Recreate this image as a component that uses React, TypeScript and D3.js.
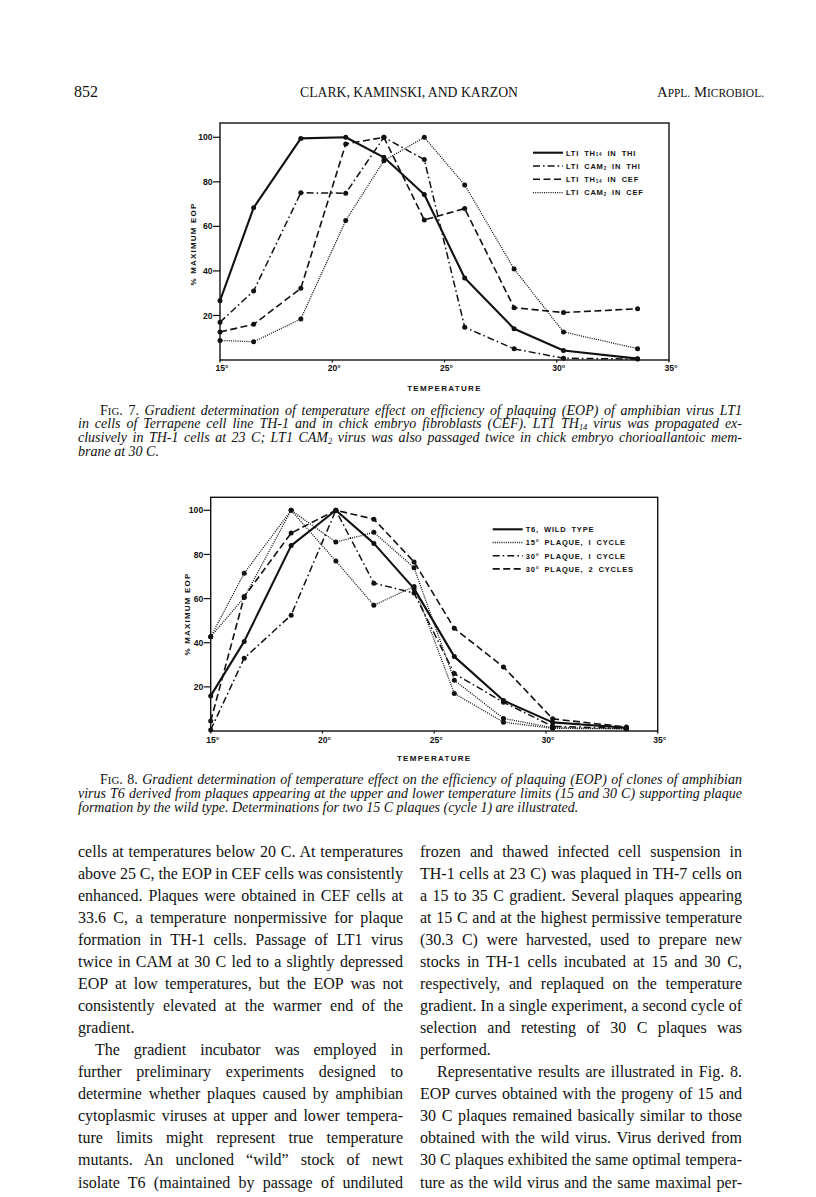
import React, { useLayoutEffect, useRef } from "react";
import * as d3 from "d3";

// ---------- data ----------
const temperatures = [15, 16.5, 18.6, 20.6, 22.3, 24.1, 25.9, 28.1, 30.3, 33.6];
const xTickValues = [15, 20, 25, 30, 35];
const yTickValues = [20, 40, 60, 80, 100];

// Fig. 7 series (% maximum EOP)
const lt1Th14InThi = [26.6, 68.4, 99.5, 100, 91, 74.3, 36.8, 14, 4.3, 0.6];
const lt1Cam2InThi = [17, 31, 75.1, 74.9, 100, 90, 14.7, 5, 0.8, 0.4];
const lt1Th14InCef = [12.6, 16, 32.2, 97, 100, 62.9, 68, 23.5, 21.3, 23];
const lt1Cam2InCef = [8.8, 8.2, 18.4, 62.6, 89.5, 100, 78.6, 40.9, 12.6, 5.1];
const fig7Labels = ["LTI TH_{14} IN THI", "LTI CAM_{2} IN THI", "LTI TH_{14} IN CEF", "LTI CAM_{2} IN CEF"];

// Fig. 8 series (% maximum EOP)
const t6WildType = [15.9, 40.6, 84, 100, 85, 64.5, 33.7, 13.8, 3.9, 1.5];
const plaque15CycleA = [42.7, 71.5, 100, 77, 57, 65.5, 17, 4, 1.2, 1];
const plaque15CycleB = [42.7, 60.5, 100, 85.6, 90, 74, 23, 5.7, 1.5, 1];
const plaque30Cycle1 = [0.5, 33, 52.5, 100, 67, 62.5, 26, 13, 2.1, 1.2];
const plaque30Cycle2 = [4.5, 60.9, 89.7, 100, 96, 76.6, 46.5, 29, 5.5, 1.8];
const fig8Labels = ["T6, WILD TYPE", "15° PLAQUE, I CYCLE", "30° PLAQUE, I CYCLE", "30° PLAQUE, 2 CYCLES"];

const headerLeft = "852";
const headerCenter = "CLARK, KAMINSKI, AND KARZON";
const headerRight = "A^{PPL.} M^{ICROBIOL.}";

const fig7Caption = [
  "~{F}^{IG}~{. 7. }Gradient determination of temperature effect on efficiency of plaquing (EOP) of amphibian virus LT1",
  "in cells of Terrapene cell line TH-1 and in chick embryo fibroblasts (CEF). LT1 TH_{14} virus was propagated ex-",
  "clusively in TH-1 cells at 23 C; LT1 CAM_{2} virus was also passaged twice in chick embryo chorioallantoic mem-",
  "brane at 30 C.",
];
const fig8Caption = [
  "~{F}^{IG}~{. 8. }Gradient determination of temperature effect on the efficiency of plaquing (EOP) of clones of amphibian",
  "virus T6 derived from plaques appearing at the upper and lower temperature limits (15 and 30 C) supporting plaque",
  "formation by the wild type. Determinations for two 15 C plaques (cycle 1) are illustrated.",
];

const leftColumn = [
  "cells at temperatures below 20 C. At temperatures",
  "above 25 C, the EOP in CEF cells was consistently",
  "enhanced. Plaques were obtained in CEF cells at",
  "33.6 C, a temperature nonpermissive for plaque",
  "formation in TH-1 cells. Passage of LT1 virus",
  "twice in CAM at 30 C led to a slightly depressed",
  "EOP at low temperatures, but the EOP was not",
  "consistently elevated at the warmer end of the",
  "gradient.",
  "The gradient incubator was employed in",
  "further preliminary experiments designed to",
  "determine whether plaques caused by amphibian",
  "cytoplasmic viruses at upper and lower tempera-",
  "ture limits might represent true temperature",
  "mutants. An uncloned \u201cwild\u201d stock of newt",
  "isolate T6 (maintained by passage of undiluted",
];
const leftParagraphEnds = [8];
const leftIndented = [9];

const rightColumn = [
  "frozen and thawed infected cell suspension in",
  "TH-1 cells at 23 C) was plaqued in TH-7 cells on",
  "a 15 to 35 C gradient. Several plaques appearing",
  "at 15 C and at the highest permissive temperature",
  "(30.3 C) were harvested, used to prepare new",
  "stocks in TH-1 cells incubated at 15 and 30 C,",
  "respectively, and replaqued on the temperature",
  "gradient. In a single experiment, a second cycle of",
  "selection and retesting of 30 C plaques was",
  "performed.",
  "Representative results are illustrated in Fig. 8.",
  "EOP curves obtained with the progeny of 15 and",
  "30 C plaques remained basically similar to those",
  "obtained with the wild virus. Virus derived from",
  "30 C plaques exhibited the same optimal tempera-",
  "ture as the wild virus and the same maximal per-",
];
const rightParagraphEnds = [9];
const rightIndented = [10];

// ---------- styles ----------
type Kind = "solid" | "dashdot" | "dashed" | "dotted";
const STROKE: Record<Kind, { w: number; dash?: string }> = {
  solid: { w: 2.1 },
  dashdot: { w: 1.5, dash: "7 3 1.6 3" },
  dashed: { w: 1.6, dash: "7 3.5" },
  dotted: { w: 1.3, dash: "1 1.2" },
};

const SANS = "'Liberation Sans', Arial, sans-serif";
const SERIF = "'Liberation Serif', 'Times New Roman', serif";
const INK = "#111";

// rich text: _{sub}, ^{small caps roman}, ~{roman}
function Rich({ s, size }: { s: string; size: number }) {
  const parts: { t: string; k: string }[] = [];
  const re = /([_^~])\{([^}]*)\}/g;
  let last = 0;
  let m: RegExpExecArray | null;
  while ((m = re.exec(s))) {
    if (m.index > last) parts.push({ t: s.slice(last, m.index), k: "" });
    parts.push({ t: m[2], k: m[1] });
    last = re.lastIndex;
  }
  if (last < s.length) parts.push({ t: s.slice(last), k: "" });
  let shift = 0;
  return (
    <>
      {parts.map((p, i) => {
        const target = p.k === "_" ? size * 0.12 : 0;
        const dy = target - shift;
        shift = target;
        return (
          <tspan
            key={i}
            dy={dy !== 0 ? dy : undefined}
            fontSize={p.k === "_" ? size * 0.6 : p.k === "^" ? size * 0.78 : undefined}
            fontStyle={p.k === "^" || p.k === "~" ? "normal" : undefined}
          >
            {p.t}
          </tspan>
        );
      })}
    </>
  );
}

interface SeriesDef {
  values: number[];
  kind: Kind;
}

interface ChartProps {
  left: number;
  right: number;
  top: number;
  yZero: number;
  yHundred: number;
  series: SeriesDef[];
  legendKinds: Kind[];
  labels: string[];
  legendX: number;
  legendY: number;
  legendStep: number;
  yTitleX: number;
  yTitleY: number;
  tickBaseline: number;
  titleBaseline: number;
}

function Chart(p: ChartProps) {
  const x = d3.scaleLinear().domain([15, 35]).range([p.left, p.right]);
  const y = d3.scaleLinear().domain([0, 100]).range([p.yZero, p.yHundred]);
  const line = d3
    .line<number>()
    .x((_, i) => x(temperatures[i]))
    .y((d) => y(d));
  const bottom = p.yZero;
  return (
    <g>
      <rect x={p.left} y={p.top} width={p.right - p.left} height={bottom - p.top} fill="none" stroke={INK} strokeWidth={1.4} />
      {yTickValues.map((v) => (
        <g key={"y" + v}>
          <line x1={p.left - 7} x2={p.left} y1={y(v)} y2={y(v)} stroke={INK} strokeWidth={1.2} />
          <text x={p.left - 7.5} y={y(v) + 3.1} textAnchor="end" fontFamily={SANS} fontWeight="bold" fontSize={8.6} fill={INK}>
            {v}
          </text>
        </g>
      ))}
      {xTickValues.map((v) => (
        <g key={"x" + v}>
          <line x1={x(v)} x2={x(v)} y1={bottom} y2={bottom + 2.5} stroke={INK} strokeWidth={1.2} />
          <text x={x(v) + 2} y={p.tickBaseline} textAnchor="middle" fontFamily={SANS} fontWeight="bold" fontSize={8.6} fill={INK}>
            {v}°
          </text>
        </g>
      ))}
      <text x={(p.left + p.right) / 2} y={p.titleBaseline} textAnchor="middle" fontFamily={SANS} fontWeight="bold" fontSize={8} letterSpacing={1.3} fill={INK}>
        TEMPERATURE
      </text>
      <text
        transform={`translate(${p.yTitleX},${p.yTitleY}) rotate(-90)`}
        textAnchor="middle"
        fontFamily={SANS}
        fontWeight="bold"
        fontSize={8}
        letterSpacing={1.2}
        fill={INK}
        dy={2.9}
      >
        % MAXIMUM EOP
      </text>
      {p.series.map((s, si) => (
        <g key={"s" + si}>
          <path d={line(s.values) || ""} fill="none" stroke={INK} strokeWidth={STROKE[s.kind].w} strokeDasharray={STROKE[s.kind].dash} strokeLinejoin="round" />
          {s.values.map((v, i) => (
            <circle key={i} cx={x(temperatures[i])} cy={y(v)} r={2.5} fill={INK} />
          ))}
        </g>
      ))}
      {p.labels.map((lab, i) => {
        const ly = p.legendY + i * p.legendStep;
        const k = p.legendKinds[i];
        return (
          <g key={"l" + i}>
            <line x1={p.legendX} x2={p.legendX + 30} y1={ly} y2={ly} stroke={INK} strokeWidth={STROKE[k].w} strokeDasharray={STROKE[k].dash} />
            <text x={p.legendX + 33} y={ly + 2.8} fontFamily={SANS} fontWeight="bold" fontSize={7.5} letterSpacing={0.8} wordSpacing={2.2} fill={INK}>
              <Rich s={lab} size={7.5} />
            </text>
          </g>
        );
      })}
    </g>
  );
}

function Column({ lines, x, width, top, step, ends, indents }: { lines: string[]; x: number; width: number; top: number; step: number; ends: number[]; indents: number[] }) {
  return (
    <g>
      {lines.map((l, i) => {
        const ind = indents.includes(i) ? 17 : 0;
        const justify = !ends.includes(i);
        return (
          <text key={i} x={x + ind} y={top + i * step} fontFamily={SERIF} fontSize={16} fill={INK} data-jw={justify ? width - ind : undefined}>
            {l}
          </text>
        );
      })}
    </g>
  );
}

function Caption({ lines, top, step }: { lines: string[]; top: number; step: number }) {
  return (
    <g>
      {lines.map((l, i) => {
        const first = i === 0;
        const last = i === lines.length - 1;
        const x0 = first ? 100 : 78;
        return (
          <text key={i} x={x0} y={top + i * step} fontFamily={SERIF} fontStyle="italic" fontSize={14} fill={INK} data-jw={!last ? 742 - x0 : undefined}>
            <Rich s={l} size={14} />
          </text>
        );
      })}
    </g>
  );
}

function justifyAll(svg: SVGSVGElement | null) {
  if (!svg) return;
  svg.querySelectorAll("text[data-jw]").forEach((node) => {
    const el = node as SVGTextElement;
    const target = parseFloat(el.getAttribute("data-jw") || "0");
    el.setAttribute("word-spacing", "0");
    el.removeAttribute("textLength");
    const len = el.getComputedTextLength();
    const spaces = ((el.textContent || "").match(/ /g) || []).length;
    if (spaces > 0) {
      const ws = (target - len) / spaces;
      if (ws > -2) {
        el.setAttribute("word-spacing", String(ws));
      } else {
        el.setAttribute("textLength", String(target));
        el.setAttribute("lengthAdjust", "spacingAndGlyphs");
      }
    }
  });
}

export default function App() {
  const ref = useRef<SVGSVGElement>(null);
  useLayoutEffect(() => {
    justifyAll(ref.current);
    const f = (document as any).fonts;
    if (f && f.ready) f.ready.then(() => justifyAll(ref.current));
  }, []);
  return (
    <svg ref={ref} width={816} height={1197} viewBox="0 0 816 1197" style={{ position: "absolute", left: 0, top: 0, background: "#fff" }}>
      <rect x={0} y={0} width={816} height={1197} fill="#fff" />
      <text x={74} y={97} fontFamily={SERIF} fontSize={16} fill={INK}>
        {headerLeft}
      </text>
      <text x={300} y={97} fontFamily={SERIF} fontSize={15.5} fill={INK} textLength={218} lengthAdjust="spacingAndGlyphs">
        {headerCenter}
      </text>
      <text x={657} y={97} fontFamily={SERIF} fontSize={15.5} fill={INK} textLength={107} lengthAdjust="spacingAndGlyphs">
        <Rich s={headerRight} size={15.5} />
      </text>

      <Chart
        left={220}
        right={669}
        top={123}
        yZero={360}
        yHundred={137.3}
        series={[
          { values: lt1Cam2InCef, kind: "dotted" },
          { values: lt1Th14InCef, kind: "dashed" },
          { values: lt1Cam2InThi, kind: "dashdot" },
          { values: lt1Th14InThi, kind: "solid" },
        ]}
        legendKinds={["solid", "dashdot", "dashed", "dotted"]}
        labels={fig7Labels}
        legendX={533}
        legendY={152.7}
        legendStep={13.3}
        yTitleX={193}
        yTitleY={244}
        tickBaseline={370.5}
        titleBaseline={391}
      />
      <Caption lines={fig7Caption} top={414.5} step={13.8} />

      <Chart
        left={210.7}
        right={657.7}
        top={497.3}
        yZero={731}
        yHundred={510.3}
        series={[
          { values: plaque15CycleA, kind: "dotted" },
          { values: plaque15CycleB, kind: "dotted" },
          { values: plaque30Cycle1, kind: "dashdot" },
          { values: plaque30Cycle2, kind: "dashed" },
          { values: t6WildType, kind: "solid" },
        ]}
        legendKinds={["solid", "dotted", "dashdot", "dashed"]}
        labels={fig8Labels}
        legendX={492.7}
        legendY={529.3}
        legendStep={13.2}
        yTitleX={186.7}
        yTitleY={614}
        tickBaseline={742.5}
        titleBaseline={761}
      />
      <Caption lines={fig8Caption} top={783.5} step={14} />

      <Column lines={leftColumn} x={78} width={325} top={856.5} step={22.07} ends={leftParagraphEnds} indents={leftIndented} />
      <Column lines={rightColumn} x={420} width={322} top={856.5} step={22.07} ends={rightParagraphEnds} indents={rightIndented} />
    </svg>
  );
}
